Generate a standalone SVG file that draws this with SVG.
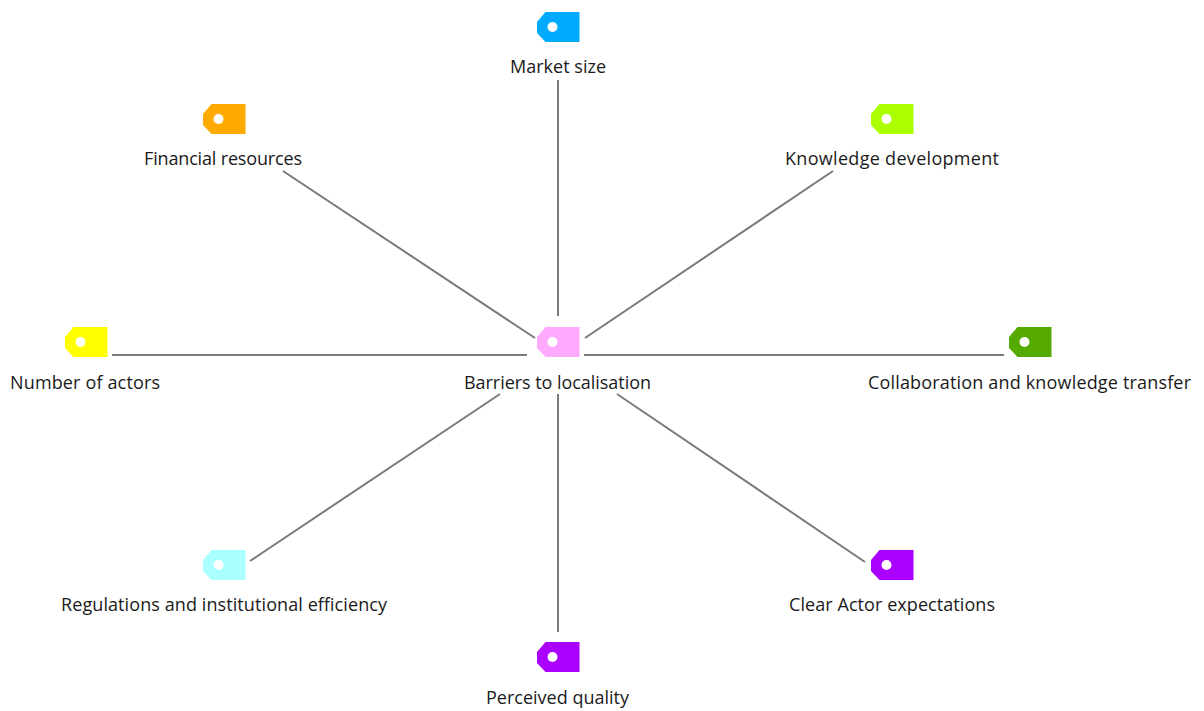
<svg xmlns="http://www.w3.org/2000/svg" width="1204" height="711" viewBox="0 0 1204 711">
<style>
text{font-family:"Open Sans","Noto Sans","Liberation Sans",sans-serif;font-size:18px;fill:#1a1a1a;text-anchor:middle}
.l{stroke:#7a7a7a;stroke-width:2;fill:none}
.h{fill:#fff}
</style>
<defs>
<path id="tag" d="M8.5 0H42.5V30H8.5L0 21V10Z"/>
</defs>
<rect width="1204" height="711" fill="#fff"/>
<g id="connectors">
<path class="l" d="M558 80V316"/>
<path class="l" d="M558 394V632"/>
<path class="l" d="M112 355H527"/>
<path class="l" d="M584 355H1004"/>
<path class="l" d="M283 171L535 338"/>
<path class="l" d="M833 171L585 338"/>
<path class="l" d="M250 561L500 394"/>
<path class="l" d="M865 562L617 394"/>
</g>
<g id="center"><use href="#tag" x="537" y="327" fill="#ffaaff"/><circle class="h" cx="552.5" cy="342" r="5"/><text x="557.5" y="389" textLength="187">Barriers to localisation</text></g>
<g id="market"><use href="#tag" x="537" y="12" fill="#00aaff"/><circle class="h" cx="552.5" cy="27" r="5"/><text x="558" y="73" textLength="96">Market size</text></g>
<g id="financial"><use href="#tag" x="203" y="104" fill="#ffaa00"/><circle class="h" cx="218.5" cy="119" r="5"/><text x="223" y="165" textLength="158">Financial resources</text></g>
<g id="knowledge"><use href="#tag" x="871" y="104" fill="#aaff00"/><circle class="h" cx="886.5" cy="119" r="5"/><text x="892" y="165" textLength="214">Knowledge development</text></g>
<g id="actors"><use href="#tag" x="65" y="327" fill="#ffff00"/><circle class="h" cx="80.5" cy="342" r="5"/><text x="85" y="389" textLength="150">Number of actors</text></g>
<g id="collab"><use href="#tag" x="1009" y="327" fill="#55aa00"/><circle class="h" cx="1024.5" cy="342" r="5"/><text x="1029.5" y="389" textLength="323">Collaboration and knowledge transfer</text></g>
<g id="regulations"><use href="#tag" x="203" y="550" fill="#aaffff"/><circle class="h" cx="218.5" cy="565" r="5"/><text x="224" y="611" textLength="326">Regulations and institutional efficiency</text></g>
<g id="clear"><use href="#tag" x="871" y="550" fill="#aa00ff"/><circle class="h" cx="886.5" cy="565" r="5"/><text x="892" y="611" textLength="206">Clear Actor expectations</text></g>
<g id="perceived"><use href="#tag" x="537" y="642" fill="#aa00ff"/><circle class="h" cx="552.5" cy="657" r="5"/><text x="557.5" y="704" textLength="143">Perceived quality</text></g>
</svg>
